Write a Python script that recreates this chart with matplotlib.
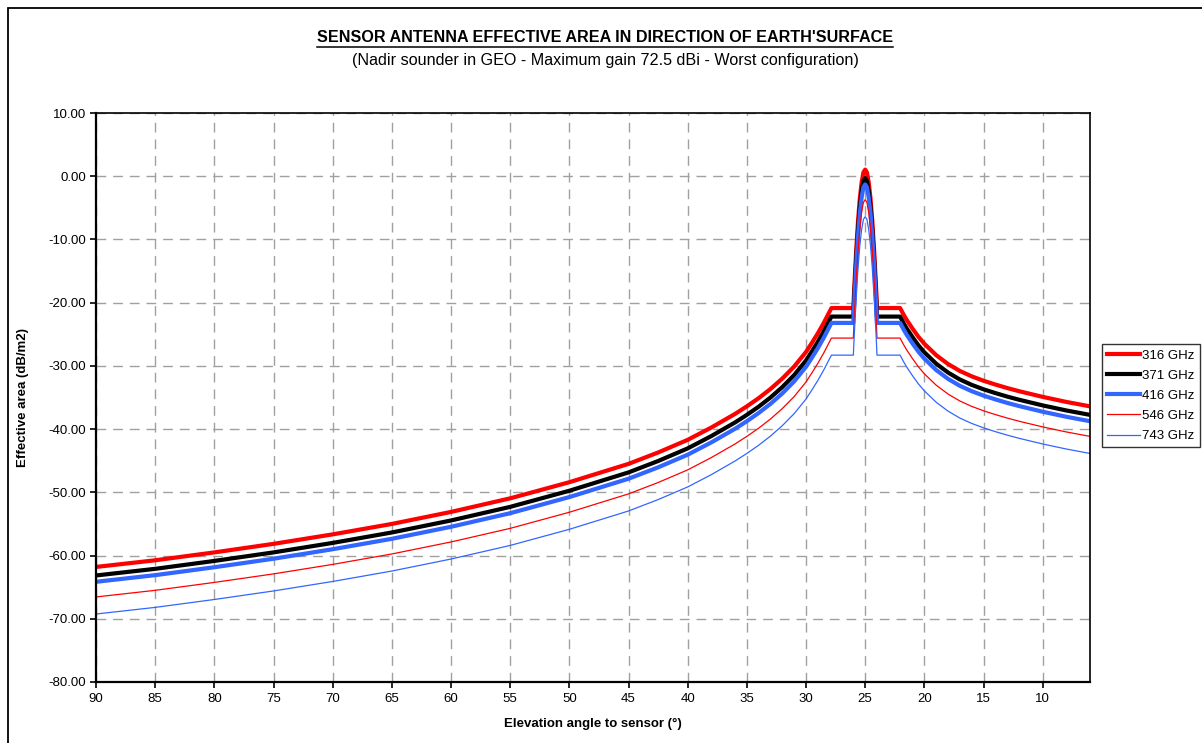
import matplotlib
matplotlib.use("Agg")
import matplotlib.pyplot as plt
from matplotlib.patches import Rectangle
from matplotlib.lines import Line2D
from matplotlib.ticker import FormatStrFormatter

plt.rcParams['font.family'] = ['Liberation Sans', 'DejaVu Sans']

# ---------------- data ----------------
elevation = [90, 85, 80, 75, 70, 65, 60, 55, 50, 45, 42.5, 40, 38, 36, 35, 34, 33, 32, 31, 30,
             29.5, 29, 28.5, 28.1, 27.85, 26.0,
             25.93, 25.85, 25.75, 25.6, 25.45, 25.3, 25.15, 25.0, 24.85, 24.7, 24.55, 24.4,
             24.25, 24.15, 24.07, 24.0,
             22.05, 21.75, 21.5, 21.0, 20.5, 20, 19, 18, 17, 16, 15, 14, 13, 12, 11, 10, 9, 8, 7, 6]

ea_316 = [-61.8, -60.75, -59.5, -58.15, -56.65, -55.0, -53.1, -50.95, -48.4, -45.5, -43.7, -41.7,
          -39.75, -37.6, -36.4, -35.1, -33.65, -32.0, -30.1, -27.8, -26.35, -24.85, -23.2, -21.75,
          -20.85, -20.85,
          -18.0, -15.0, -11.5, -7.0, -3.5, -1.0, 0.6, 1.05, 0.6, -1.0, -3.5, -7.0, -11.5, -15.0,
          -18.0, -20.85,
          -20.85, -21.9, -22.7, -24.1, -25.4, -26.5, -28.3, -29.7, -30.8, -31.65, -32.35, -32.95,
          -33.5, -34.0, -34.45, -34.9, -35.3, -35.7, -36.05, -36.4]

ea_371 = [-63.15, -62.1, -60.85, -59.5, -58.0, -56.35, -54.45, -52.3, -49.75, -46.85, -45.05,
          -43.05, -41.1, -38.95, -37.75, -36.45, -35.0, -33.35, -31.45, -29.15, -27.7, -26.2,
          -24.55, -23.1, -22.2, -22.2,
          -19.35, -16.35, -12.85, -8.35, -4.85, -2.35, -0.75, -0.3, -0.75, -2.35, -4.85, -8.35,
          -12.85, -16.35, -19.35, -22.2,
          -22.2, -23.25, -24.05, -25.45, -26.75, -27.85, -29.65, -31.05, -32.15, -33.0, -33.7,
          -34.3, -34.85, -35.35, -35.8, -36.25, -36.65, -37.05, -37.4, -37.75]

ea_416 = [-64.15, -63.1, -61.85, -60.5, -59.0, -57.35, -55.45, -53.3, -50.75, -47.85, -46.05,
          -44.05, -42.1, -39.95, -38.75, -37.45, -36.0, -34.35, -32.45, -30.15, -28.7, -27.2,
          -25.55, -24.1, -23.2, -23.2,
          -20.35, -17.35, -13.85, -9.35, -5.85, -3.35, -1.75, -1.3, -1.75, -3.35, -5.85, -9.35,
          -13.85, -17.35, -20.35, -23.2,
          -23.2, -24.25, -25.05, -26.45, -27.75, -28.85, -30.65, -32.05, -33.15, -34.0, -34.7,
          -35.3, -35.85, -36.35, -36.8, -37.25, -37.65, -38.05, -38.4, -38.75]

ea_546 = [-66.55, -65.5, -64.25, -62.9, -61.4, -59.75, -57.85, -55.7, -53.15, -50.25, -48.45,
          -46.45, -44.5, -42.35, -41.15, -39.85, -38.4, -36.75, -34.85, -32.55, -31.1, -29.6,
          -27.95, -26.5, -25.6, -25.6,
          -22.75, -19.75, -16.25, -11.75, -8.25, -5.75, -4.15, -3.7, -4.15, -5.75, -8.25, -11.75,
          -16.25, -19.75, -22.75, -25.6,
          -25.6, -26.65, -27.45, -28.85, -30.15, -31.25, -33.05, -34.45, -35.55, -36.4, -37.1,
          -37.7, -38.25, -38.75, -39.2, -39.65, -40.05, -40.45, -40.8, -41.15]

ea_743 = [-69.25, -68.2, -66.95, -65.6, -64.1, -62.45, -60.55, -58.4, -55.85, -52.95, -51.15,
          -49.15, -47.2, -45.05, -43.85, -42.55, -41.1, -39.45, -37.55, -35.25, -33.8, -32.3,
          -30.65, -29.2, -28.3, -28.3,
          -25.45, -22.45, -18.95, -14.45, -10.95, -8.45, -6.85, -6.4, -6.85, -8.45, -10.95, -14.45,
          -18.95, -22.45, -25.45, -28.3,
          -28.3, -29.35, -30.15, -31.55, -32.85, -33.95, -35.75, -37.15, -38.25, -39.1, -39.8,
          -40.4, -40.95, -41.45, -41.9, -42.35, -42.75, -43.15, -43.5, -43.85]

series_labels = ['316 GHz', '371 GHz', '416 GHz', '546 GHz', '743 GHz']
series_values = [ea_316, ea_371, ea_416, ea_546, ea_743]
series_colors = ['#FF0000', '#000000', '#3366FF', '#FF0000', '#3366FF']
series_widths = [3.0, 3.0, 3.0, 0.9, 0.9]

x_ticks = [90, 85, 80, 75, 70, 65, 60, 55, 50, 45, 40, 35, 30, 25, 20, 15, 10]
y_ticks = [-80, -70, -60, -50, -40, -30, -20, -10, 0, 10]

title = "SENSOR ANTENNA EFFECTIVE AREA IN DIRECTION OF EARTH'SURFACE"
subtitle = "(Nadir sounder in GEO - Maximum gain 72.5 dBi - Worst configuration)"
x_label = "Elevation angle to sensor (°)"
y_label = "Effective area (dB/m2)"

# ---------------- figure ----------------
W, H = 1202, 743
fig = plt.figure(figsize=(W / 100, H / 100), dpi=100)
fig.patch.set_facecolor('white')

ax_l, ax_r, ax_t, ax_b = 96, 1090, 113, 682
ax = fig.add_axes([ax_l / W, 1 - ax_b / H, (ax_r - ax_l) / W, (ax_b - ax_t) / H])

for vals, lab, col, lw in zip(series_values, series_labels, series_colors, series_widths):
    ax.plot(elevation, vals, color=col, lw=lw, label=lab, solid_joinstyle='round')

ax.set_xlim(90, 6)
ax.set_ylim(-80, 10)
ax.set_xticks(x_ticks)
ax.set_yticks(y_ticks)
ax.yaxis.set_major_formatter(FormatStrFormatter('%.2f'))
ax.grid(True, color='#A0A0A0', lw=1.0, linestyle=(0, (7, 5)))
ax.set_axisbelow(True)
ax.tick_params(axis='both', labelsize=9.5, length=4, width=1.2, direction='out', color='black')
ax.tick_params(axis='x', pad=4)
ax.tick_params(axis='y', pad=3)
for s in ['left', 'bottom']:
    ax.spines[s].set_linewidth(1.6)
for s in ['right', 'top']:
    ax.spines[s].set_linewidth(1.2)

ax.set_xlabel(x_label, fontsize=9.5, fontweight='bold', labelpad=9)
ax.set_ylabel(y_label, fontsize=9.5, fontweight='bold', labelpad=14)

# titles
t1 = fig.text(605 / W, 1 - 38 / H, title, ha='center', va='center', fontsize=11.6, fontweight='bold')
t2 = fig.text(605 / W, 1 - 60 / H, subtitle, ha='center', va='center', fontsize=11.6)

# legend
leg = fig.legend(loc='upper left', bbox_to_anchor=(1102 / W, 1 - 344 / H), fontsize=9.5,
                 frameon=True, fancybox=False, edgecolor='black', borderaxespad=0,
                 handlelength=2.5, handletextpad=0.15, labelspacing=0.6, borderpad=0.4)
leg.get_frame().set_linewidth(1.0)

# outer chart border
fig.add_artist(Rectangle((8 / W, -0.05), 2, 1 - 8 / H + 0.05, transform=fig.transFigure,
                         fill=False, edgecolor='black', lw=1.3))

# underline title
fig.canvas.draw()
bb = t1.get_window_extent(renderer=fig.canvas.get_renderer())
yline = bb.y0 - 1
fig.add_artist(Line2D([bb.x0 / W, bb.x1 / W], [yline / H, yline / H], transform=fig.transFigure,
                      color='black', lw=1.1))

fig.savefig('out.png', dpi=100)
